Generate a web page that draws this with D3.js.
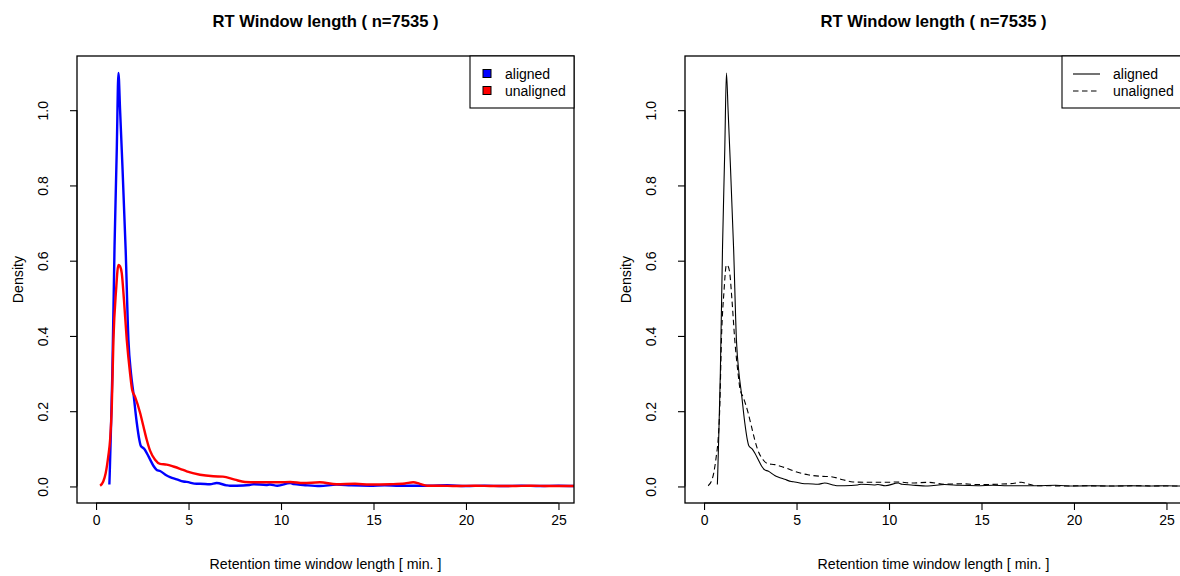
<!DOCTYPE html>
<html>
<head>
<meta charset="utf-8">
<script src="https://cdn.jsdelivr.net/npm/d3@7"></script>
<style>
  html, body { margin: 0; padding: 0; background: #fff; }
  svg { display: block; font-family: "Liberation Sans", Arial, Helvetica, sans-serif; }
</style>
</head>
<body>
<svg id="chart" width="1180" height="576"></svg>
<script>
// ---- data ----
const titleText = "RT Window length ( n=7535 )";
const xLabelText = "Retention time window length [ min. ]";
const yLabelText = "Density";
const seriesNames = ["aligned", "unaligned"];
const xTicks = [0, 5, 10, 15, 20, 25];
const yTicks = [0.0, 0.2, 0.4, 0.6, 0.8, 1.0];

const alignedX = [0.72,0.74,0.79,0.88,1.0,1.12,1.21,1.3,1.39,1.6,1.75,1.89,2.02,2.2,2.34,2.42,2.6,2.75,2.92,3.1,3.28,3.46,3.82,4.0,4.36,4.72,4.9,5.44,5.62,6.16,6.52,7.06,7.24,7.6,8.3,8.5,9.2,9.4,9.8,10.5,10.7,11.2,12.1,13.0,13.8,14.8,15.6,16.4,17.2,18.0,19,20,21,22,23,24,25,26];
const alignedY = [0.005,0.035,0.124,0.30,0.64,0.894,1.099,1.0,0.894,0.63,0.39,0.30,0.248,0.17,0.124,0.108,0.10,0.088,0.072,0.055,0.044,0.041,0.029,0.025,0.019,0.013,0.012,0.007,0.007,0.006,0.009,0.003,0.002,0.002,0.004,0.006,0.004,0.005,0.002,0.009,0.006,0.004,0.001,0.005,0.003,0.002,0.003,0.002,0.002,0.002,0.003,0.001,0.002,0.001,0.002,0.001,0.002,0.001];

const unalignedX = [0.22,0.39,0.52,0.66,0.76,0.85,0.94,1.08,1.21,1.3,1.39,1.51,1.66,1.84,1.95,2.11,2.38,2.56,2.74,2.92,3.19,3.46,3.82,4.18,4.54,4.9,5.62,6.34,6.86,7.5,8.05,8.86,9.9,10.5,11.2,12.1,13.0,14.0,14.8,15.9,16.7,17.15,17.5,17.9,18.5,19.5,20.5,21.5,22.5,23.5,24.5,25.5,26];
const unalignedY = [0.002,0.013,0.035,0.08,0.124,0.21,0.39,0.52,0.589,0.585,0.567,0.495,0.39,0.30,0.257,0.238,0.196,0.16,0.124,0.095,0.071,0.06,0.058,0.053,0.047,0.04,0.031,0.027,0.026,0.018,0.012,0.011,0.011,0.012,0.009,0.011,0.006,0.007,0.005,0.006,0.008,0.011,0.007,0.002,0.002,0.001,0.002,0.001,0.001,0.002,0.001,0.001,0.001];

// ---- layout ----
const svg = d3.select("#chart");
const box = { left: 77, right: 574, top: 56, bottom: 503 };
const panelOffset = 608;
const fontFam = '"Liberation Sans", Arial, sans-serif';
const x = d3.scaleLinear().domain([-1.03, 25.84]).range([box.left, box.right]);
const y = d3.scaleLinear().domain([-0.044, 1.144]).range([box.bottom, box.top]);

const alignedPts = alignedX.map((v, i) => [v, alignedY[i]]);
const unalignedPts = unalignedX.map((v, i) => [v, unalignedY[i]]);
const line = d3.line().x(d => x(d[0])).y(d => y(d[1])).curve(d3.curveMonotoneX);

const panels = [
  { id: 0, styles: [
      { color: "#0000ff", width: 2.4, dash: null },
      { color: "#ff0000", width: 2.4, dash: null } ], legendType: "box",
    legend: { x0: 470, x1: 574 } },
  { id: 1, styles: [
      { color: "#000", width: 1.1, dash: null },
      { color: "#000", width: 1.1, dash: "5.5,3.5" } ], legendType: "line",
    legend: { x0: 1062 - panelOffset, x1: 1190 - panelOffset } }
];

svg.append("defs").append("clipPath").attr("id", "clipBox")
  .append("rect").attr("x", box.left).attr("y", box.top)
  .attr("width", box.right - box.left).attr("height", box.bottom - box.top);

panels.forEach(p => {
  const g = svg.append("g").attr("transform", `translate(${p.id * panelOffset},0)`);

  // curves
  const cg = g.append("g").attr("clip-path", "url(#clipBox)");
  [alignedPts, unalignedPts].forEach((pts, i) => {
    const s = p.styles[i];
    cg.append("path").datum(pts)
      .attr("d", line).attr("fill", "none")
      .attr("stroke", s.color).attr("stroke-width", s.width)
      .attr("stroke-linejoin", "round")
      .attr("stroke-dasharray", s.dash);
  });

  // box
  g.append("rect").attr("x", box.left).attr("y", box.top)
    .attr("width", box.right - box.left).attr("height", box.bottom - box.top)
    .attr("fill", "none").attr("stroke", "#000").attr("stroke-width", 1.3);

  // x axis
  const xa = g.append("g").attr("transform", `translate(0,${box.bottom})`)
    .call(d3.axisBottom(x).tickValues(xTicks).tickSize(7).tickSizeOuter(0).tickPadding(5).tickFormat(d3.format("d")));
  xa.select(".domain").attr("d", `M${x(xTicks[0])},0H${x(xTicks[xTicks.length-1])}`);
  xa.selectAll("line").attr("stroke-width", 1.1);
  xa.selectAll("text").attr("font-size", 14).attr("fill", "#000").attr("font-family", fontFam);

  // y axis
  const ya = g.append("g").attr("transform", `translate(${box.left},0)`)
    .call(d3.axisLeft(y).tickValues(yTicks).tickSize(7).tickSizeOuter(0).tickFormat(d3.format(".1f")));
  ya.select(".domain").attr("d", `M0,${y(yTicks[0])}V${y(yTicks[yTicks.length-1])}`);
  ya.selectAll("line").attr("stroke-width", 1.1);
  ya.selectAll(".tick text")
    .attr("x", null).attr("dy", null)
    .attr("text-anchor", "middle").attr("font-size", 14).attr("fill", "#000")
    .attr("font-family", fontFam)
    .attr("transform", "translate(-29,0) rotate(-90)");

  // title
  g.append("text").attr("x", (box.left + box.right) / 2).attr("y", 27)
    .attr("text-anchor", "middle").attr("font-weight", "bold").attr("font-size", 16.6)
    .text(titleText);

  // axis labels
  g.append("text").attr("x", (box.left + box.right) / 2).attr("y", 569)
    .attr("text-anchor", "middle").attr("font-size", 14.2).text(xLabelText);
  g.append("text").attr("transform", `translate(23,${(box.top + box.bottom) / 2}) rotate(-90)`)
    .attr("text-anchor", "middle").attr("font-size", 14.2).text(yLabelText);

  // legend
  const L = p.legend;
  g.append("rect").attr("x", L.x0).attr("y", box.top).attr("width", L.x1 - L.x0).attr("height", 52)
    .attr("fill", "#fff").attr("stroke", "#000").attr("stroke-width", 1.1);
  seriesNames.forEach((name, i) => {
    const cy = 74 + i * 17;
    const s = p.styles[i];
    if (p.legendType === "box") {
      g.append("rect").attr("x", 483).attr("y", cy - 4.5).attr("width", 8).attr("height", 8)
        .attr("fill", s.color).attr("stroke", "#000").attr("stroke-width", 1);
      g.append("text").attr("x", 505).attr("y", cy + 5).attr("font-size", 14).text(name);
    } else {
      g.append("line").attr("x1", 1073 - panelOffset).attr("x2", 1100 - panelOffset)
        .attr("y1", cy).attr("y2", cy).attr("stroke", "#000").attr("stroke-width", 1.1)
        .attr("stroke-dasharray", s.dash);
      g.append("text").attr("x", 1113 - panelOffset).attr("y", cy + 5).attr("font-size", 14).text(name);
    }
  });
});
</script>
</body>
</html>
